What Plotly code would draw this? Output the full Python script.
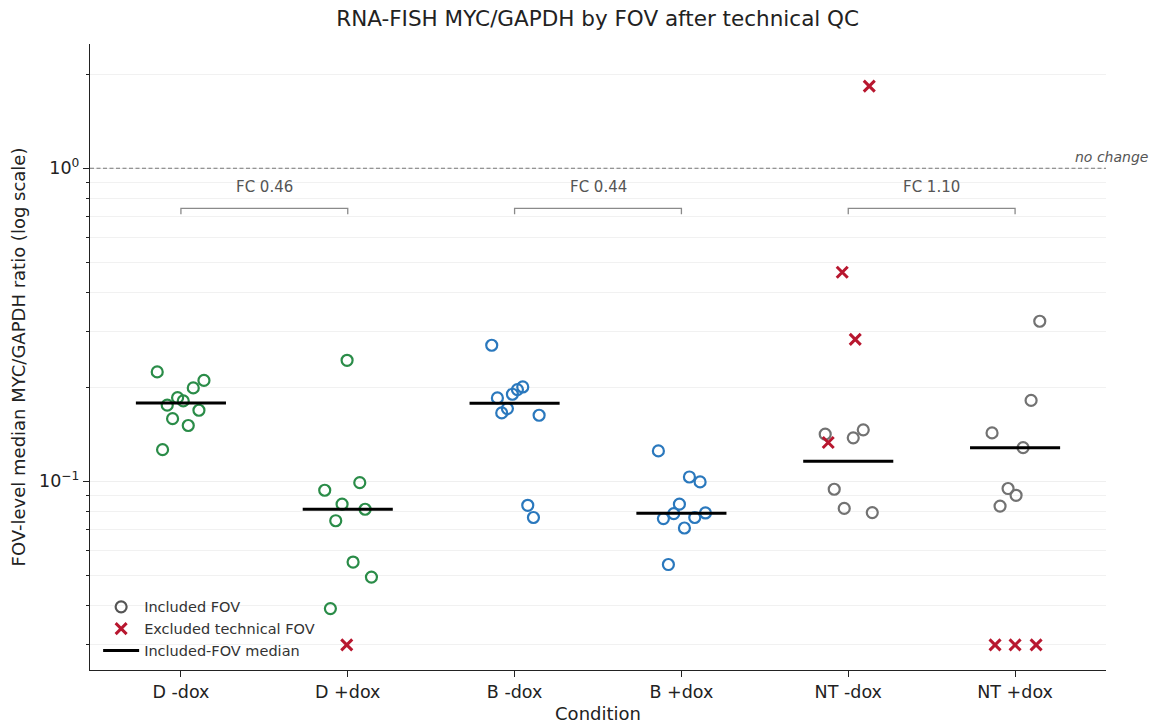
import numpy as np
import plotly.graph_objects as go

# ---- data ---------------------------------------------------------------
conditions = ["D -dox", "D +dox", "B -dox", "B +dox", "NT -dox", "NT +dox"]

# FOV-level median MYC/GAPDH ratios (included FOVs)
d_minus_incl = [0.2235, 0.210, 0.1987, 0.185, 0.1806, 0.175, 0.1686, 0.1585, 0.1507, 0.1262]
d_plus_incl = [0.2435, 0.0990, 0.0936, 0.0845, 0.0814, 0.0748, 0.0552, 0.0494, 0.0392]
b_minus_incl = [0.272, 0.2001, 0.1963, 0.1897, 0.1846, 0.1707, 0.1653, 0.1625, 0.0838, 0.0766]
b_plus_incl = [0.125, 0.1032, 0.0995, 0.0845, 0.0788, 0.0792, 0.0760, 0.0766, 0.0709, 0.0542]
nt_minus_incl = [0.1414, 0.146, 0.1376, 0.0943, 0.0819, 0.0794]
nt_plus_incl = [0.3245, 0.1813, 0.1427, 0.128, 0.0948, 0.0902, 0.0833]

# FOVs removed by technical QC (values below the display floor shown at 0.03)
d_minus_excl = []
d_plus_excl = [0.03]
b_minus_excl = []
b_plus_excl = []
nt_minus_excl = [1.83, 0.4654, 0.284, 0.133]
nt_plus_excl = [0.03, 0.03, 0.03]

# horizontal strip jitter (category units)
d_minus_jit = [-0.142, 0.138, 0.074, -0.020, 0.014, -0.082, 0.108, -0.050, 0.044, -0.110]
d_plus_jit = [-0.004, 0.072, -0.138, -0.034, 0.104, -0.072, 0.032, 0.142, -0.104]
b_minus_jit = [-0.137, 0.049, 0.017, -0.013, -0.103, -0.043, -0.077, 0.147, 0.079, 0.113]
b_plus_jit = [-0.138, 0.048, 0.112, -0.012, -0.046, 0.144, -0.108, 0.080, 0.018, -0.078]
nt_minus_jit = [-0.138, 0.090, 0.030, -0.084, -0.024, 0.144]
nt_plus_jit = [0.148, 0.096, -0.138, 0.048, -0.042, 0.006, -0.090]

d_minus_excl_jit = []
d_plus_excl_jit = [-0.006]
b_minus_excl_jit = []
b_plus_excl_jit = []
nt_minus_excl_jit = [0.126, -0.036, 0.042, -0.120]
nt_plus_excl_jit = [-0.120, 0.0, 0.126]

# comparisons (minus-dox index, plus-dox index)
comparisons = [(0, 1), (2, 3), (4, 5)]

# ---- styling ------------------------------------------------------------
GREEN = "#2a8c48"
BLUE = "#2a78bd"
GREY = "#727272"
RED = "#b8172f"
FONT = "DejaVu Sans"
X_RANGE = [-0.545, 5.545]

included = [d_minus_incl, d_plus_incl, b_minus_incl, b_plus_incl, nt_minus_incl, nt_plus_incl]
excluded = [d_minus_excl, d_plus_excl, b_minus_excl, b_plus_excl, nt_minus_excl, nt_plus_excl]
inc_jit = [d_minus_jit, d_plus_jit, b_minus_jit, b_plus_jit, nt_minus_jit, nt_plus_jit]
exc_jit = [d_minus_excl_jit, d_plus_excl_jit, b_minus_excl_jit, b_plus_excl_jit,
           nt_minus_excl_jit, nt_plus_excl_jit]
colors = [GREEN, GREEN, BLUE, BLUE, GREY, GREY]

medians = [float(np.median(v)) for v in included]

fig = go.Figure()

# no-change reference line at ratio 1
fig.add_trace(go.Scatter(x=X_RANGE, y=[1, 1], mode="lines",
                         line=dict(color="#777777", width=1.2, dash="4px,2.5px"),
                         showlegend=False, hoverinfo="skip"))

for i, cond in enumerate(conditions):
    fig.add_trace(go.Scatter(
        x=[i + j for j in inc_jit[i]], y=included[i], mode="markers",
        marker=dict(symbol="circle-open", size=11, color=colors[i],
                    line=dict(width=2.2, color=colors[i])),
        showlegend=False, hoverinfo="y", name=cond))
    if excluded[i]:
        fig.add_trace(go.Scatter(
            x=[i + j for j in exc_jit[i]], y=excluded[i], mode="markers",
            marker=dict(symbol="x-thin", size=11, color=RED,
                        line=dict(width=3, color=RED)),
            showlegend=False, hoverinfo="y", name=cond + " excluded"))
    fig.add_trace(go.Scatter(
        x=[i - 0.27, i + 0.27], y=[medians[i], medians[i]], mode="lines",
        line=dict(color="black", width=3), showlegend=False, hoverinfo="skip"))

# fold-change brackets
BR_TOP, BR_LEG, FC_Y = 0.745, 0.713, 0.87
for a, b in comparisons:
    fc = medians[b] / medians[a]
    fig.add_trace(go.Scatter(
        x=[a, a, b, b], y=[BR_LEG, BR_TOP, BR_TOP, BR_LEG], mode="lines",
        line=dict(color="#8a8a8a", width=1.3), showlegend=False, hoverinfo="skip"))
    fig.add_annotation(x=(a + b) / 2, y=np.log10(FC_Y), text=f"FC {fc:.2f}",
                       showarrow=False, font=dict(family=FONT, size=15, color="#555555"),
                       xanchor="center", yanchor="middle")

fig.add_annotation(xref="paper", x=1.043, y=0, text="<i>no change</i>", showarrow=False,
                   xanchor="right", yanchor="bottom", yshift=1,
                   font=dict(family=FONT, size=14, color="#555555"))

# legend entries
fig.add_trace(go.Scatter(x=[None], y=[None], mode="markers", name="Included FOV",
                         marker=dict(symbol="circle-open", size=11, color="#555555",
                                     line=dict(width=2.2, color="#555555"))))
fig.add_trace(go.Scatter(x=[None], y=[None], mode="markers", name="Excluded technical FOV",
                         marker=dict(symbol="x-thin", size=11, color=RED,
                                     line=dict(width=3, color=RED))))
fig.add_trace(go.Scatter(x=[None], y=[None], mode="lines", name="Included-FOV median",
                         line=dict(color="black", width=3)))

minor_vals = [0.03, 0.04, 0.05, 0.06, 0.07, 0.08, 0.09,
              0.2, 0.3, 0.4, 0.5, 0.6, 0.7, 0.8, 0.9, 2.0]

fig.update_layout(
    width=1156, height=726,
    margin=dict(l=90, r=50, t=44, b=56, autoexpand=False),
    paper_bgcolor="white", plot_bgcolor="white",
    font=dict(family=FONT, size=17, color="#222222"),
    title=dict(text="RNA-FISH MYC/GAPDH by FOV after technical QC",
               x=0.517, xanchor="center", y=0.975, yanchor="middle",
               yref="container", font=dict(family=FONT, size=21.5, color="#222222")),
    legend=dict(x=0.008, y=0.005, xanchor="left", yanchor="bottom",
                bgcolor="rgba(0,0,0,0)", font=dict(family=FONT, size=14.5, color="#333333"),
                itemwidth=36, tracegroupgap=0),
    xaxis=dict(range=X_RANGE, tickmode="array", tickvals=list(range(6)),
               ticktext=conditions, showgrid=False, zeroline=False,
               showline=True, linecolor="#222222", linewidth=1.2,
               ticks="outside", ticklen=6, tickcolor="#222222",
               tickfont=dict(size=17.5),
               title=dict(text="Condition", standoff=6, font=dict(size=18))),
    yaxis=dict(type="log", range=[-1.603, 0.397], tickmode="array",
               tickvals=[0.1, 1], ticktext=["10<sup>−1</sup>", "10<sup>0</sup>"],
               showgrid=True, gridcolor="#efefef", gridwidth=1, zeroline=False,
               showline=True, linecolor="#222222", linewidth=1.2,
               ticks="outside", ticklen=6, tickcolor="#222222",
               tickfont=dict(size=17.5),
               minor=dict(tickmode="array", tickvals=minor_vals, ticks="outside",
                          ticklen=3, tickcolor="#222222", showgrid=True,
                          gridcolor="#f1f1f1", gridwidth=1),
               title=dict(text="FOV-level median MYC/GAPDH ratio (log scale)",
                          standoff=8, font=dict(size=18))),
)

fig.write_html("out.html")
